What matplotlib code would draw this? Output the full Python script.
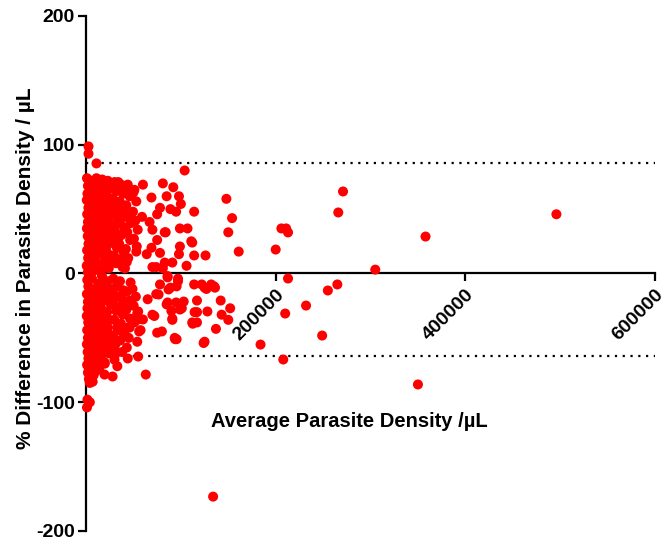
import numpy as np
import matplotlib
matplotlib.use("Agg")
import matplotlib.pyplot as plt

plt.rcParams['font.family'] = ['Liberation Sans', 'DejaVu Sans']
plt.rcParams['font.weight'] = 'bold'

# dense cluster close to the y axis (x in /uL, y in %)
core_pts = [
    (1000, 74), (2000, 68), (1500, 62), (800, 57), (2500, 51), (1200, 46), (2000, 40), (900, 35),
    (1800, 29), (2600, 23), (1100, 18), (2200, 12), (700, 6), (1900, 1), (1300, -5), (2400, -10),
    (900, -16), (2000, -22), (1500, -27), (800, -33), (2300, -38), (1200, -44), (2000, -50), (900, -55),
    (1700, -61), (2500, -66), (1100, -71), (2000, -77), (3000, -82), (1500, -98), (4000, -100), (1000, -104),
    (5500, 72), (6500, 66), (5000, 60), (7000, 54), (6000, 48), (5200, 42), (7500, 37), (6200, 31),
    (5000, 25), (7200, 19), (6000, 13), (5400, 7), (7800, 2), (6300, -4), (5100, -12), (7000, -18),
    (6000, -24), (5300, -30), (7600, -36), (6400, -42), (5200, -48), (7200, -54), (6100, -60), (5600, -66),
    (7000, -72), (8000, -79), (6000, -84), (10000, -76),
    (11000, 74), (12500, 68), (10500, 63), (13000, 57), (11500, 51), (10200, 45), (13500, 40), (12000, 34),
    (10800, 28), (13200, 22), (11600, 16), (10400, 10), (12800, -8), (11200, -14), (13600, -20), (10600, -26),
    (12400, -32), (11000, -38), (13800, -44), (12000, -50), (10400, -56), (13000, -62), (11600, -68), (14000, -74),
    (17000, 73), (19000, 67), (16500, 61), (18500, 55), (20000, 49), (17500, 43), (16200, 37), (19200, 31),
    (17800, 25), (16400, 19), (19600, 13), (18000, 7), (16800, -2), (19400, -9), (17200, -15), (18600, -21),
    (16000, -27), (20000, -33), (17600, -39), (19000, -45), (16600, -51), (18400, -57), (17000, -63), (19800, -70),
    (23000, 72), (25500, 66), (22500, 60), (24500, 53), (26000, 47), (23200, 41), (22000, 35), (25000, 29),
    (23800, 23), (22400, 16), (25800, 10), (24000, 4), (22800, -6), (25200, -12), (23400, -18), (26000, -24),
    (22200, -30), (24600, -36), (23000, -42), (25400, -48), (22600, -55), (24200, -62),
    (30000, 71), (32000, 64), (28500, 58), (31000, 52), (29000, 45), (33000, 39), (30500, 33), (28000, 26),
    (32500, 20), (29500, 14), (31500, 8), (28800, -4), (32200, -10), (30200, -17), (28400, -23), (31800, -29),
    (29800, -36), (32800, -42), (28600, -48), (31000, -55), (30000, -64), (33000, -72),
    (37000, 69), (39000, 62), (35500, 56), (38000, 49), (36000, 42), (40000, 36), (37500, 30), (35000, 23),
    (39500, 17), (36500, 11), (38500, 5), (35800, -6), (39200, -13), (37200, -19), (35400, -26), (38800, -32),
    (36800, -39), (40000, -46), (36000, -52), (38000, -61),
    (43000, 66), (46000, 60), (42500, 53), (45000, 46), (47000, 39), (43500, 32), (46500, 26), (42000, 19),
    (44500, 12), (47000, -7), (43200, -14), (45800, -21), (42600, -28), (46400, -35), (44000, -42), (45000, -50),
    (50000, 63), (53000, 56), (49500, 48), (52000, 41), (54500, 34), (50500, 27), (53500, 21), (49000, -12),
    (52500, -18), (50200, -25), (54000, -31), (51000, -38),
    (3500, 71), (4000, 53), (3800, 33), (4200, 15), (3500, -2), (4000, -20), (3600, -40), (4200, -58),
    (3000, -74), (8500, 62), (9000, 40), (8600, 22), (9000, 4), (8800, -28), (9200, -46), (8700, -64),
    (14500, 70), (15000, 48), (14800, 28), (15200, 2), (14600, -32), (15000, -56), (21000, 60), (21500, 40),
    (21000, 20), (21200, -20), (21000, -44), (27000, 56), (27500, 36), (27000, -14), (34000, 47),
    (34500, 28), (34000, -18), (41000, 44), (41000, 4), (41500, -22),
]

# middle band, 40k - 160k
mid_pts = [
    (2600, 98.7), (2600, 93), (11000, 85.5),
    (59000, 44), (67000, 40), (70000, 34), (84000, 32), (75000, 26), (69000, 20), (78000, 16), (64000, 15),
    (70000, 5), (81000, 4), (53000, 17), (43000, 9), (60000, 69), (51000, 65), (44000, 69), (34000, 71),
    (69000, 59), (78000, 51), (85000, 60), (98000, 60), (81000, 70), (92000, 67), (95000, 48), (99000, 35),
    (107000, 35), (99000, 21), (98000, 15), (91000, 8.5), (83000, 8.5), (104000, 80), (114000, 48),
    (106000, 6), (114000, 14), (112000, 24), (89000, 50), (100000, 54), (75000, 46), (83000, 32),
    (111000, 25), (74000, 5), (86000, -2), (97000, -4), (148000, 58), (154000, 43), (150000, 32),
    (161000, 17), (126000, 14),
    (89000, -11), (78000, -8.5), (74000, -16), (97000, -6), (114000, -8.5), (122000, -8.5), (127000, -12),
    (135000, -10), (117000, -21), (142000, -21), (152000, -27), (143000, -32), (150000, -36), (128000, -29.5),
    (117000, -30), (112000, -38), (137000, -43), (124000, -54), (86000, -22.5), (95000, -22.5), (101000, -27),
    (90000, -29), (91000, -36), (80000, -45), (94000, -51), (72000, -33), (132000, -8.5), (125000, -11),
    (136000, -11), (55000, -29.5), (55000, -35.7), (60000, -35.7), (56000, -45), (54000, -53), (46000, -42),
    (37500, -45), (43000, -57.5), (44000, -66), (55000, -64.5), (63000, -78.5), (30000, -59), (30000, -67),
    (25000, -55), (23000, -49), (19500, -69), (21600, -53.6), (28000, -80), (19500, -78.5), (7000, -84),
    (4000, -85), (4000, -77), (70000, -32), (75000, -46), (57500, -44), (95500, -10), (86000, -3),
    (87000, -12.4), (76500, -16.3), (65000, -20), (85000, -24), (99000, -28), (103000, -21.8), (91000, -35),
    (95500, -51), (93500, -50), (114500, -30), (117000, -38), (112500, -39), (125000, -53),
]

# sparse high-density samples
outer_pts = [
    (496000, 46), (358000, 28.7), (305000, 3), (271000, 63.7), (266000, 47.4), (265000, -8.5),
    (255000, -13.2), (249000, -48.2), (232000, -24.9), (350000, -86.2), (213000, -3.9), (210000, -31.1),
    (208000, -66.8), (206000, 35), (211000, 35), (213000, 31.9), (200000, 18.6), (184000, -55.2),
    (134000, -173.3),
]

upper_loa = 85.5
lower_loa = -63.7

pts = np.array(core_pts + mid_pts + outer_pts, dtype=float)

fig = plt.figure(figsize=(6.69, 5.44), dpi=100)
ax = fig.add_axes([0.1286, 0.0239, 0.8505, 0.9467])

ax.plot([0, 600000], [upper_loa, upper_loa], color='black', lw=1.6,
        linestyle=(0, (1, 2.5)), zorder=1)
ax.plot([0, 600000], [lower_loa, lower_loa], color='black', lw=1.6,
        linestyle=(0, (1, 2.5)), zorder=1)

ax.scatter(pts[:, 0], pts[:, 1], s=52, color='#ff0000', edgecolors='none', zorder=3, clip_on=False)

ax.set_xlim(0, 600000)
ax.set_ylim(-200, 200)

for s in ['top', 'right']:
    ax.spines[s].set_visible(False)
ax.spines['bottom'].set_position(('data', 0))
ax.spines['left'].set_linewidth(1.6)
ax.spines['bottom'].set_linewidth(1.6)
ax.spines['bottom'].set_zorder(2)

ax.set_yticks([-200, -100, 0, 100, 200])
ax.set_yticklabels(['-200', '-100', '0', '100', '200'], fontsize=14, fontweight='bold')
ax.set_xticks([200000, 400000, 600000])
ax.set_xticklabels(['200000', '400000', '600000'], fontsize=14, fontweight='bold',
                   rotation=45, ha='right', va='top', rotation_mode='anchor')
ax.tick_params(axis='both', direction='out', length=6, width=1.6)
ax.tick_params(axis='x', pad=3)
ax.tick_params(axis='y', pad=2)

ax.set_ylabel('% Difference in Parasite Density / µL', fontsize=15, fontweight='bold')
ax.yaxis.set_label_coords(-0.09, 0.51)
fig.text(0.522, 0.226, 'Average Parasite Density /µL', fontsize=14.5, fontweight='bold',
         ha='center', va='center')

fig.savefig('out.png', dpi=100)
